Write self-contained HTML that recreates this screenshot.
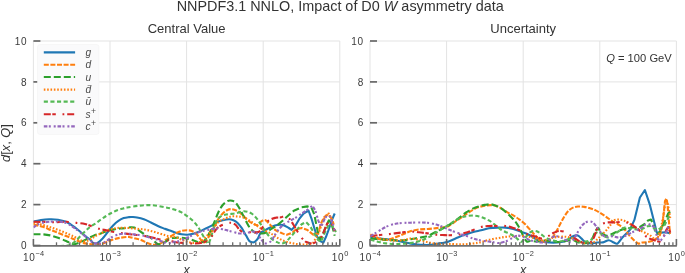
<!DOCTYPE html>
<html><head><meta charset="utf-8"><style>
html,body{margin:0;padding:0;background:#fff;overflow:hidden;width:685px;height:273px;}
svg{display:block;}
text{font-family:"Liberation Sans",sans-serif;fill:#333;}
.title{font-size:14.4px;}
.sub{font-size:13px;}
.tl{font-size:10px;letter-spacing:0.7px;fill:#3a3a3a;}
.sup{font-size:7.4px;letter-spacing:0.2px;}
.lab{font-size:12.5px;}
.leg{font-size:10.2px;font-style:italic;fill:#4a4a4a;}
.q{font-size:11.2px;}
.ylab{font-size:12.8px;}
</style></head>
<body><svg width="685" height="273" viewBox="0 0 685 273">
<rect width="685" height="273" fill="#fff"/>
<defs><clipPath id="cl"><rect x="33.4" y="41.0" width="306.40000000000003" height="204.5"/></clipPath><clipPath id="cr"><rect x="370.0" y="41.0" width="306.4" height="204.5"/></clipPath></defs>
<line x1="33.4" y1="41.0" x2="33.4" y2="245.5" stroke="#e3e3e3" stroke-width="1"/>
<line x1="110" y1="41.0" x2="110" y2="245.5" stroke="#e3e3e3" stroke-width="1"/>
<line x1="186.6" y1="41.0" x2="186.6" y2="245.5" stroke="#e3e3e3" stroke-width="1"/>
<line x1="263.2" y1="41.0" x2="263.2" y2="245.5" stroke="#e3e3e3" stroke-width="1"/>
<line x1="339.8" y1="41.0" x2="339.8" y2="245.5" stroke="#e3e3e3" stroke-width="1"/>
<line x1="33.4" y1="245.5" x2="339.8" y2="245.5" stroke="#e3e3e3" stroke-width="1"/>
<line x1="33.4" y1="204.6" x2="339.8" y2="204.6" stroke="#e3e3e3" stroke-width="1"/>
<line x1="33.4" y1="163.7" x2="339.8" y2="163.7" stroke="#e3e3e3" stroke-width="1"/>
<line x1="33.4" y1="122.8" x2="339.8" y2="122.8" stroke="#e3e3e3" stroke-width="1"/>
<line x1="33.4" y1="81.9" x2="339.8" y2="81.9" stroke="#e3e3e3" stroke-width="1"/>
<line x1="33.4" y1="41" x2="339.8" y2="41" stroke="#e3e3e3" stroke-width="1"/>
<line x1="370" y1="41.0" x2="370" y2="245.5" stroke="#e3e3e3" stroke-width="1"/>
<line x1="446.6" y1="41.0" x2="446.6" y2="245.5" stroke="#e3e3e3" stroke-width="1"/>
<line x1="523.2" y1="41.0" x2="523.2" y2="245.5" stroke="#e3e3e3" stroke-width="1"/>
<line x1="599.8" y1="41.0" x2="599.8" y2="245.5" stroke="#e3e3e3" stroke-width="1"/>
<line x1="676.4" y1="41.0" x2="676.4" y2="245.5" stroke="#e3e3e3" stroke-width="1"/>
<line x1="370" y1="245.5" x2="676.4" y2="245.5" stroke="#e3e3e3" stroke-width="1"/>
<line x1="370" y1="204.6" x2="676.4" y2="204.6" stroke="#e3e3e3" stroke-width="1"/>
<line x1="370" y1="163.7" x2="676.4" y2="163.7" stroke="#e3e3e3" stroke-width="1"/>
<line x1="370" y1="122.8" x2="676.4" y2="122.8" stroke="#e3e3e3" stroke-width="1"/>
<line x1="370" y1="81.9" x2="676.4" y2="81.9" stroke="#e3e3e3" stroke-width="1"/>
<line x1="370" y1="41" x2="676.4" y2="41" stroke="#e3e3e3" stroke-width="1"/>
<path d="M33.4,221.6 C34.7,221.3 38.4,220.5 41,220.1 C43.6,219.7 46.2,219.4 49,219.3 C51.8,219.2 55.2,219.3 58,219.7 C60.8,220.1 63.2,220.6 66,221.8 C68.8,223.1 72.1,225.4 74.6,227.2 C77.1,229 79.1,230.9 81,232.5 C82.9,234.1 84.5,235.3 86,236.5 C87.5,237.7 89,238.7 90.3,239.8 C91.6,241 92.6,242.9 93.8,243.4 C95,243.9 95.8,243.9 97.3,243.1 C98.8,242.3 100.8,240.3 102.6,238.5 C104.3,236.7 106,234.2 107.8,232 C109.5,229.8 111.3,227.4 113.1,225.5 C114.9,223.6 116.6,222 118.4,220.8 C120.2,219.6 121.9,218.7 123.7,218.1 C125.5,217.5 127.6,217.3 129,217.1 C130.4,216.9 130.7,216.9 132,217 C133.3,217.1 135,217.1 137,217.5 C139,217.9 141.6,218.5 143.9,219.3 C146.2,220.1 148.6,221.4 150.9,222.5 C153.2,223.6 155.6,224.9 157.9,226 C160.2,227.1 162.5,227.9 164.8,228.8 C167.1,229.7 169.9,230.5 171.8,231.2 C173.7,231.9 174.4,232.3 176,232.8 C177.6,233.3 179.7,234 181.6,234.3 C183.5,234.6 185.4,234.8 187.4,234.7 C189.4,234.6 191.4,234.3 193.3,233.8 C195.2,233.3 197.2,232.6 199.1,231.8 C201,231 203,229.8 204.9,228.9 C206.8,228 208.8,227.3 210.7,226.2 C212.6,225.1 214.4,223.4 216.4,222.4 C218.4,221.4 220.6,220.7 222.7,220.2 C224.8,219.7 227.3,219.2 229.1,219.2 C230.9,219.2 232,219.6 233.4,220.2 C234.8,220.8 236.2,221.6 237.6,222.9 C239,224.2 240.4,226.1 241.8,228.2 C243.2,230.3 244.8,233.5 246.1,235.6 C247.3,237.7 248.2,239.9 249.3,241 C250.4,242.1 251.6,242.1 252.5,242.3 C253.4,242.5 253.6,242.6 254.5,242 C255.4,241.4 256.8,240.1 257.8,238.6 C258.8,237.1 259.4,234.2 260.7,232.8 C262,231.4 263.7,230.9 265.5,229.9 C267.3,228.9 269.4,227.8 271.3,227 C273.2,226.2 275.2,225.3 277.1,225 C279,224.7 280.9,224.5 282.9,225 C284.8,225.5 287.3,227.2 288.8,228 L291.7,229.9 L295.8,225.1 L299.7,218.3 L303.6,213.5 L308.5,210.5 L311.4,218.3 L314.3,228 L317.2,236.8 L321.1,241.6 L323.4,242.6 L326,236.8 L328.9,229 L331.8,220.3 L334.7,213.5" fill="none" stroke="#1f77b4" stroke-width="2.1" stroke-linejoin="round" clip-path="url(#cl)"/>
<path d="M33.4,224.5 C35,224.9 39.7,225.9 42.7,226.8 C45.7,227.8 48.4,229.1 51.2,230.2 C54,231.3 56.9,232.4 59.7,233.5 C62.5,234.6 65.7,235.8 68.2,236.8 C70.7,237.8 72.5,238.6 74.6,239.5 C76.7,240.4 78.9,241.6 81,242.3 C83.1,243 85.5,243.5 87.3,243.8 C89.1,244.1 89.8,244.2 92,244.2 C94.2,244.2 98.5,244.3 100.8,244 C103.1,243.7 104,242.9 106.1,242.2 C108.1,241.4 110.8,240.2 113.1,239.5 C115.4,238.8 117.8,238.2 120.1,237.8 C122.4,237.4 125.5,237 127.2,236.9 C128.8,236.8 128.6,236.9 130,237.2 C131.4,237.5 133.8,238.1 135.6,238.6 C137.4,239.1 139.2,239.2 141.1,239.9 C142.9,240.6 144.8,241.9 146.7,242.7 C148.6,243.5 150.7,244.3 152.3,244.6 C153.9,244.9 155.1,244.8 156.5,244.6 C157.9,244.4 159.2,244.1 160.6,243.4 C162,242.7 163.4,241.5 164.8,240.5 C166.2,239.5 167.2,238.8 169,237.6 C170.8,236.4 173.7,234.4 175.8,233.3 C177.9,232.2 179.7,231.4 181.6,230.9 C183.5,230.4 185.6,230.2 187.4,230.3 C189.2,230.4 190.8,230.6 192.3,231.2 C193.8,231.8 194.9,232.6 196.2,233.8 C197.5,235 198.9,237.2 200,238.6 C201.1,240 201.9,241.8 202.9,242.3 C203.9,242.8 204.9,242.4 205.9,241.5 C206.9,240.6 207.8,238.3 208.8,236.7 C209.8,235.1 210.8,233.4 211.7,231.8 C212.6,230.2 213.1,229.4 214.2,227.2 C215.3,225 217.1,221 218.5,218.7 C219.9,216.4 221.3,214.8 222.7,213.4 C224.1,212 225.6,210.9 227,210.2 C228.4,209.5 229.8,209.1 231.2,209.1 C232.6,209.1 234.1,209.7 235.5,210.2 C236.9,210.7 238.3,211.2 239.7,212.3 C241.1,213.4 242.6,215.1 244,216.5 C245.4,217.9 246.5,219.5 248.2,220.8 C249.8,222.1 252.3,223.4 253.9,224.1 C255.5,224.8 256.5,225.5 257.8,225 C259.1,224.5 260.3,222 261.6,221.2 C262.9,220.4 264.2,219.7 265.5,220.2 C266.8,220.7 267.8,222.5 269.4,224.1 C271,225.7 273.3,228.4 275.2,229.9 C277.1,231.4 279.1,232 281,232.8 C282.9,233.6 284.9,234.8 286.8,234.7 L292.6,232.5 L295.8,229.5 L301.7,228 L307.5,230 L313.3,234.8 L318.2,232.9 L321.1,223.2 L324,217.4 L327.9,214.4 L330.8,217.4 L333.7,224.2" fill="none" stroke="#ff7f0e" stroke-width="2.1" stroke-dasharray="5 1.6" stroke-linejoin="round" clip-path="url(#cl)"/>
<path d="M33.4,234.3 C35,234.3 39.7,234.1 42.7,234.3 C45.7,234.5 48.4,234.9 51.2,235.6 C54,236.3 57.2,237.5 59.7,238.4 C62.2,239.3 64.3,240.2 66.1,241 C67.9,241.8 68.9,242.5 70.3,243 C71.7,243.5 72.8,244.3 74.6,244.1 C76.4,243.9 78.9,242.9 81,242 C83.1,241.1 85.2,239.9 87.3,238.8 C89.4,237.7 91.5,236.5 93.7,235.6 C96,234.7 98.5,234.2 100.8,233.4 C103.1,232.6 105.4,231.5 107.8,230.8 C110.2,230.1 112.9,229.6 114.9,229.2 C116.9,228.8 118.4,228.7 120,228.5 C121.6,228.3 123,228.4 124.7,228.2 C126.4,228 128.4,227.4 130,227.3 C131.6,227.2 132.8,227.1 134.2,227.6 C135.6,228.1 137,229.3 138.4,230.2 C139.8,231.1 141.1,232.1 142.5,233 C143.9,233.9 145.3,235 146.7,235.8 C148.1,236.6 149.5,236.9 150.9,237.9 C152.3,238.9 153.9,241 155.1,242 C156.3,243 157,243.8 157.9,244.1 C158.8,244.4 159.4,244.4 160.6,244.1 C161.8,243.8 163.4,243 164.8,242.2 C166.2,241.4 167.6,240 169,239.3 C170.4,238.6 171.5,238.3 173,238 C174.5,237.7 176.2,237.6 178,237.6 C179.8,237.6 182,237.7 184,238 C186,238.3 188.2,238.7 190,239.2 C191.8,239.7 193.5,240.5 195,241 C196.5,241.5 197.6,242.2 199.1,242.3 C200.6,242.4 202.4,242.4 203.9,241.3 C205.4,240.2 206.5,237.8 207.8,235.7 C209.1,233.6 210.6,231.1 211.7,228.9 C212.8,226.7 213.1,225.3 214.2,222.5 C215.3,219.7 217.1,214.9 218.5,212 C219.9,209.1 221.3,206.8 222.7,205 C224.1,203.2 225.8,202.1 227,201.3 C228.2,200.6 228.9,200.5 230,200.5 C231.1,200.5 232.2,200.4 233.5,201.2 C234.8,202 236.2,203.4 237.6,205.3 C239,207.2 240.3,209.9 241.7,212.5 C243.1,215.1 244.4,218.1 245.8,220.7 C247.2,223.3 248.5,226.1 249.9,227.9 C251.3,229.8 252.7,231 254,231.8 C255.3,232.7 256.4,232.7 257.7,233 C259,233.3 260.6,233.6 262,233.5 C263.4,233.4 264.6,233.2 266.2,232.5 C267.8,231.8 269.5,230.2 271.3,229 C273.1,227.8 274.9,226.9 276.8,225.5 C278.7,224.1 280.9,222.2 282.9,220.5 C284.9,218.8 287,216.6 288.8,215 L293.8,210.8 L301.7,207.2 L307.5,206.4 L311.4,207.6 L314.3,214.4 L316.2,224.2 L318.2,233.9 L320.1,239.7 L323,233.9 L326,226.1 L328.9,220.3 L331.8,224.2 L334.7,235.8" fill="none" stroke="#2ca02c" stroke-width="2.1" stroke-dasharray="7 3" stroke-linejoin="round" clip-path="url(#cl)"/>
<path d="M33.4,223 C35,223.3 39.7,224.1 42.7,224.8 C45.7,225.6 48.4,226.6 51.2,227.5 C54,228.4 56.9,229.4 59.7,230.5 C62.5,231.6 65.7,232.9 68.2,234 C70.7,235.1 72.6,236 74.6,237 C76.6,238 78.4,239.3 80,240 C81.6,240.7 82.7,241.2 84,241.3 C85.3,241.4 86.7,241 88,240.5 C89.3,240 90.8,239.1 92,238.3 C93.2,237.6 94,236.8 95.5,236 C97,235.2 99,234.3 100.8,233.4 C102.6,232.5 104.3,231.5 106.1,230.8 C107.9,230.1 109.7,229.4 111.4,229 C113.2,228.6 114.8,228.3 116.6,228.1 C118.3,227.9 119.7,227.8 121.9,227.8 C124.1,227.8 127.5,227.9 130,228.1 C132.5,228.3 134.7,228.6 137,228.8 C139.3,229 141.6,229.2 143.9,229.5 C146.2,229.8 148.6,230.3 150.9,230.9 C153.2,231.5 155.6,232.3 157.9,233 C160.2,233.7 162.8,234.5 164.8,235.1 C166.8,235.7 168.2,236.2 170,236.5 C171.8,236.8 173.9,236.7 175.8,237.2 C177.7,237.7 179.6,238.8 181.6,239.6 C183.6,240.4 185.8,241.4 188,242 C190.2,242.6 192.8,243.1 195,243 C197.2,242.9 199.3,242.3 201,241.5 C202.7,240.7 203.7,239.3 205,238 C206.3,236.7 207.6,235.1 208.8,233.8 C210,232.5 211,231.2 212,230 C213,228.8 213.9,227.9 215,226.5 C216.1,225.1 216.8,223.1 218.5,221.8 C220.2,220.5 222.8,219.6 224.9,218.7 C227,217.8 229.1,216.9 231.2,216.5 C233.3,216.1 235.5,216.3 237.6,216.5 C239.7,216.7 241.9,216.8 244,217.6 C246.1,218.3 248,219.5 250.3,221 C252.6,222.5 255.3,224.8 257.8,226.5 C260.3,228.2 263.2,229.7 265.5,230.9 C267.8,232.1 269.4,232.7 271.3,233.8 C273.2,234.9 275.2,236.5 277.1,237.6 C279,238.7 280.9,239.7 282.9,240.5 C284.8,241.3 286.8,241.9 288.8,242.5 L295,243.8 L300,244.5 L305.5,244.5 L310,244 L313.3,242.6 L316,238 L319.2,231.9 L323,220.3 L326.9,214.4 L328.9,213.5 L331.8,219.3 L334,225" fill="none" stroke="#ff7f0e" stroke-width="2.1" stroke-dasharray="1.6 1.75" stroke-linejoin="round" clip-path="url(#cl)"/>
<path d="M33.4,246 C37.8,246 54.2,246.1 60,246 C65.8,245.9 66,245.8 68,245.5 C70,245.2 70.7,244.8 72,244 C73.3,243.2 74.7,241.8 76,240.5 C77.3,239.2 78.5,238 80,236.5 C81.5,235 83.3,233.1 85,231.5 C86.7,229.9 88.2,228.3 90,227 C91.8,225.7 93.7,224.7 95.5,223.5 C97.3,222.3 99,220.9 100.8,219.7 C102.6,218.4 104.3,217.1 106.1,216 C107.9,214.9 109.7,213.9 111.4,213 C113.2,212.1 114.8,211.2 116.6,210.5 C118.3,209.8 120.1,209.3 121.9,208.8 C123.7,208.3 124.2,208 127.2,207.5 C130.2,207 135.9,206 140,205.6 C144.1,205.2 147.8,204.9 152,205.2 C156.2,205.5 162,206.8 165,207.3 C168,207.8 168.2,207.8 170,208.3 C171.8,208.8 173.9,209.4 175.8,210.1 C177.7,210.8 179.7,211.4 181.6,212.4 C183.5,213.4 185.4,214.8 187.4,216.3 C189.4,217.8 191.5,219.4 193.3,221.2 C195.1,223 196.7,224.9 198.1,227 C199.5,229.1 200.7,231.6 202,233.8 C203.3,236.1 204.8,238.9 205.9,240.5 C207,242.1 207.5,244.6 208.5,243.5 C209.5,242.4 210.8,237.6 212,234 C213.2,230.4 214.6,224.9 216,222 C217.4,219.1 218.8,217.8 220.6,216.5 C222.4,215.2 224.5,214.9 227,214.4 C229.5,213.9 232.7,213.9 235.5,213.4 C238.3,212.9 241.3,211.2 244,211.2 C246.7,211.2 249.1,212 251.4,213.4 C253.7,214.8 255.6,217 257.7,219.7 C259.8,222.3 261.9,226.3 264,229.3 C266.1,232.3 268.4,235.7 270.5,237.8 C272.6,239.9 274.9,241.1 276.8,242 C278.7,242.9 280.3,243.7 282,243.5 C283.7,243.3 285.5,242.2 287,241 L291,236.5 L295.8,231 L301.7,224.2 L306,222 L310,226 L314,233 L318,240 L321,242 L325,232 L329,224 L333,227 L336,232" fill="none" stroke="#55b955" stroke-width="2.1" stroke-dasharray="4.1 2.5" stroke-linejoin="round" clip-path="url(#cl)"/>
<path d="M33.4,221.8 C35.3,221.8 41.3,221.8 45,221.9 C48.7,222 52,222.2 55.5,222.2 C59,222.2 62.6,221.8 66.1,221.9 C69.6,222 73.5,222.6 76.7,222.9 C79.9,223.2 82.5,223.4 85,224 C87.5,224.6 89.7,225.6 92,226.4 C94.3,227.2 97,228.2 99.1,228.8 C101.1,229.4 102.2,229.5 104.3,229.9 C106.3,230.3 108.8,231 111.4,231.5 C114,232 116.9,232.4 120,232.8 C123.1,233.2 126,233.7 130,234.2 C134,234.7 140.4,235.3 143.9,235.8 C147.4,236.3 148.6,236.7 150.9,237.2 C153.2,237.7 155.6,238.5 157.9,239 C160.2,239.5 163,239.7 165,240 C167,240.3 167.9,240.4 170,240.8 C172.1,241.2 175.2,242.1 177.8,242.5 C180.4,242.9 182.6,242.8 185.5,243 C188.4,243.2 192.3,243.6 195.2,243.5 C198.1,243.4 200.7,243.2 203,242.5 C205.3,241.8 207.3,240.7 208.8,239.6 C210.3,238.5 211,237.4 212,236 C213,234.6 213.9,232.5 215,231 C216.1,229.5 216.8,228.2 218.5,227 C220.2,225.8 222.8,224.7 224.9,224 C227,223.3 229.4,222.7 231.2,222.8 C233,222.9 234.1,223.6 235.5,224.8 C236.9,226 238.3,228.8 239.7,230 C241.1,231.2 242.3,231.9 244,232.3 C245.7,232.7 248.1,232.2 250,232.2 C251.9,232.2 254,232.6 255.6,232.4 C257.2,232.2 258.3,232.5 259.7,231.3 C261.1,230.1 262.5,227 263.9,225.3 C265.3,223.6 266.7,222.1 268.1,221 C269.5,219.9 270.9,219.4 272.2,218.8 C273.5,218.2 274.5,217.8 276,217.6 C277.5,217.3 279.4,217.6 281,217.3 C282.6,217 284.1,215.6 285.6,216 L290.3,219.5 L293.9,225.5 L297.8,232 L301.7,238 L305.8,241.8 L310,243.3 L313.3,243.2 L319.2,240.7 L323,233.9 L326.9,224.2 L329.8,220.3 L332.8,226.1 L334.7,231" fill="none" stroke="#d62728" stroke-width="2.1" stroke-dasharray="7 1.5 3.5 6.7 1.8 2.9" stroke-linejoin="round" clip-path="url(#cl)"/>
<path d="M33.4,227.5 C34.2,226.9 36.2,225.1 38.5,224.2 C40.8,223.3 43.8,222.4 47,222 C50.2,221.6 54.4,221.3 57.6,221.5 C60.8,221.7 63.3,221.9 66.1,223 C68.9,224.1 71.8,226.3 74.6,228.2 C77.4,230.1 80.6,232.6 83.1,234.6 C85.6,236.6 87.6,238.5 89.4,239.9 C91.2,241.3 91.9,242.4 93.7,243 C95.5,243.6 97.9,243.8 100,243.5 C102.1,243.2 104.2,242.3 106.1,241.3 C108,240.3 109.4,238.6 111.4,237.5 C113.5,236.4 116.1,235.2 118.4,234.5 C120.7,233.8 123.5,233.7 125.4,233.6 C127.3,233.5 128.1,233.6 130,233.8 C131.9,234 134.7,234.5 137,234.8 C139.3,235.1 141.6,235.3 143.9,235.8 C146.2,236.3 148.6,237.2 150.9,237.9 C153.2,238.6 155.8,239.2 157.9,239.9 C160,240.6 161.7,241.5 163.4,242 C165.1,242.5 166.4,242.9 168,243 C169.6,243.1 171.4,242.6 173,242.3 C174.6,242 175.7,241.9 177.8,241.3 C179.9,240.7 183.2,239.5 185.5,238.6 C187.8,237.7 189.4,236.7 191.3,235.7 C193.2,234.7 195.2,233.6 197.1,232.8 C199,232 201.1,231.4 203,230.9 C204.9,230.4 206.6,230 208.8,229.6 C211,229.2 214.1,228.6 216.4,228.5 C218.7,228.4 220.2,228.8 222.7,229.3 C225.2,229.8 228.4,230.7 231.2,231.4 C234,232.1 236.9,233.3 239.7,233.5 C242.5,233.7 246,232.8 248.2,232.5 C250.4,232.2 251.6,231.4 253,231.5 C254.4,231.6 255.2,231.8 256.5,233 C257.8,234.2 259.4,236.9 260.7,238.6 C262,240.3 263.1,242.7 264.5,243.3 C265.9,243.9 268.1,242.9 269.4,242.3 C270.6,241.7 270.9,241.3 272,239.8 C273.1,238.3 274.6,235.3 275.9,233.3 C277.2,231.3 278.3,229.7 279.9,228 C281.4,226.3 283.4,224.5 285.2,223.3 L290.4,220.6 L295.8,217.6 L301.7,213.5 L307.5,209.6 L312.4,205.7 L315.3,210.5 L318.2,220.3 L321.1,227.1 L324,220.3 L326.9,215.4 L329.8,216.4 L332.8,224.2 L334.7,231" fill="none" stroke="#9467bd" stroke-width="2.1" stroke-dasharray="3.6 1.4 2 2.9 2 1.8" stroke-linejoin="round" clip-path="url(#cl)"/>
<path d="M370.4,237.4 C372,237.6 376.5,238.2 380.1,238.6 C383.7,239 388.2,239.2 392.2,239.8 C396.2,240.4 400.8,241.5 404.3,242.2 C407.8,242.9 410.3,243.6 413,244 C415.7,244.4 417.5,244.7 420.5,244.8 C423.5,244.9 427.6,245.1 431.1,244.8 C434.6,244.5 438.7,243.7 441.6,243.1 C444.5,242.5 446,242.4 448.7,241.5 C451.4,240.6 455,238.7 457.8,237.5 C460.6,236.3 462.9,235.4 465.5,234.5 C468.1,233.6 470.7,232.7 473.3,232 C475.9,231.3 478.4,230.9 481,230.3 C483.6,229.7 486,228.8 488.8,228.3 C491.6,227.9 495,227.7 497.8,227.6 C500.6,227.5 502.9,227.4 505.5,227.6 C508.1,227.8 510.7,228.2 513.3,228.9 C515.9,229.6 518.4,230.8 521,231.8 C523.6,232.8 526.3,233.5 528.8,234.7 C531.3,235.9 533.7,237.9 535.8,239 C537.9,240.1 539.3,240.9 541.6,241.5 C543.9,242.1 546.8,242.3 549.4,242.5 C552,242.7 554.5,242.7 557.1,242.5 C559.7,242.3 562.9,241.9 564.9,241.3 C566.9,240.7 567.6,239.9 569,239 C570.4,238.1 572,236.6 573.5,236 C575,235.4 576.4,235.1 577.8,235.5 C579.1,235.9 580.3,237.5 581.6,238.6 C582.9,239.7 583.9,241.5 585.5,242.3 C587.1,243.1 589.4,243.5 591.3,243.5 C593.2,243.5 595.1,242.7 597.1,242.5 C599.1,242.3 601,242.8 603,242.4 C605,242 607,240.2 608.8,240.2 C610.6,240.2 612.3,241.9 613.8,242.5 C615.2,243.1 616.1,244.4 617.5,243.6 C618.9,242.8 620.3,239.9 622.4,237.6 L629.9,229.9 L634.4,219.9 L639.9,197.5 L644.9,190 L649.9,204.9 L654.3,222.4 L656.8,232.8 L661.1,232.6 L666.1,232.3 L670.3,233.6" fill="none" stroke="#1f77b4" stroke-width="2.1" stroke-linejoin="round" clip-path="url(#cr)"/>
<path d="M370.4,234.3 C371,234.7 372.4,236 374,236.8 C375.6,237.6 378.1,238.7 380.1,239.2 C382.1,239.7 384.1,239.9 386.1,239.8 C388.1,239.7 390.2,239.2 392.2,238.6 C394.2,238 396.2,237 398.2,236.2 C400.2,235.4 402.3,234.5 404.3,233.7 C406.3,232.9 407.9,232 410.3,231.3 C412.7,230.6 415.9,229.9 418.8,229.5 C421.7,229.1 424.7,229.2 427.6,229 C430.5,228.8 433.8,228.4 436.4,228.1 C439,227.8 441.3,227.5 443.4,227.2 C445.4,226.8 446.6,227 448.7,226 C450.8,225 453.6,222.6 455.8,221.2 C458,219.8 459.7,218.6 461.6,217.3 C463.5,216 465.4,214.7 467.4,213.4 C469.3,212.1 471.4,210.6 473.3,209.5 C475.2,208.4 477.2,207.6 479.1,207 C481,206.4 483,206 484.9,205.7 C486.8,205.4 488.9,205.1 490.7,205.1 C492.5,205.1 494,205.1 495.8,205.7 C497.6,206.3 499.7,207.5 501.6,208.6 C503.5,209.7 505.4,211.3 507.4,212.4 C509.3,213.5 511.3,214.2 513.3,215.3 C515.2,216.5 517.2,217.9 519.1,219.3 C521,220.8 523,222.1 524.9,224 C526.8,225.9 529.2,228.8 530.7,230.5 C532.2,232.2 532.7,232.8 533.9,234 C535.1,235.2 536.5,236.8 537.8,238 C539.1,239.2 540.3,240.9 541.6,241.5 C542.9,242.1 544.2,241.7 545.5,241.5 C546.8,241.3 548.1,241 549.4,240.2 C550.7,239.4 552,238.2 553.3,236.5 C554.6,234.8 555.8,232.3 557.1,230 C558.4,227.7 559.7,224.9 561,222.5 C562.3,220.1 563.6,217.6 564.9,215.6 C566.2,213.6 567.4,211.8 568.8,210.5 C570.1,209.2 571.5,208.3 573,207.6 C574.5,206.9 576.2,206.6 578,206.5 C579.8,206.4 581.7,206.6 583.6,206.8 C585.5,207.1 587.5,207.4 589.4,208 C591.3,208.6 593.3,209.2 595.2,210.1 C597.1,211 599.1,212.2 601,213.4 C602.9,214.6 604.9,216 606.8,217.3 C608.7,218.7 610.4,220.1 612.6,221.5 C614.8,222.9 617.9,224.1 620,225.5 L625,230 L630,236.3 L635,241.3 L638.8,243.8 L642.5,242.5 L647.4,242.3 L652,241 L656.5,239 L660,235 L662.5,225 L663.8,212.5 L665,201 L666.5,198.5 L667.5,204 L668.8,220 L670,233.8" fill="none" stroke="#ff7f0e" stroke-width="2.1" stroke-dasharray="5 1.6" stroke-linejoin="round" clip-path="url(#cr)"/>
<path d="M370.4,238.6 C372,238.7 376.5,238.9 380.1,239.2 C383.7,239.5 388.2,240 392.2,240.2 C396.2,240.4 400.8,240.4 404.3,240.2 C407.8,240 410.6,239.2 413,238.8 C415.4,238.4 416.4,238.3 418.8,237.8 C421.2,237.3 424.7,237 427.6,236 C430.5,235 433.8,232.9 436.4,231.6 C439,230.3 441.3,229.2 443.4,228.1 C445.4,227 446.7,226.4 448.7,225.2 C450.7,224 453.2,222.4 455.4,220.8 C457.5,219.2 459.6,217.3 461.6,215.8 C463.6,214.3 465.4,212.8 467.4,211.6 C469.3,210.4 471.4,209.3 473.3,208.4 C475.2,207.5 477.2,206.9 479.1,206.3 C481,205.7 483,205.2 484.9,204.9 C486.8,204.6 488.9,204.2 490.7,204.3 C492.5,204.4 494,205 495.8,205.7 C497.6,206.4 499.7,207.3 501.6,208.6 C503.5,209.9 505.4,211.6 507.4,213.4 C509.3,215.2 511.7,217.4 513.3,219.2 C514.9,221 515.8,222.1 517.1,224.1 C518.4,226.1 519.9,228.7 521,230.9 C522.1,233.2 522.9,235.8 523.9,237.6 C524.9,239.4 525.8,240.9 526.8,241.5 C527.8,242.1 528.2,241 530,241 C531.8,241 535.2,241.6 537.8,241.5 C540.4,241.4 542.9,240.5 545.5,240.5 C548.1,240.5 550.7,241.3 553.3,241.5 C555.9,241.7 558.4,242.1 561,241.9 C563.6,241.7 566.8,240.8 568.8,240.5 C570.8,240.2 571.5,239.7 573,240 C574.5,240.3 575.7,241.8 577.8,242.3 C579.9,242.9 583.2,243.6 585.5,243.3 C587.8,243 589.7,242.4 591.3,240.5 C592.9,238.6 594.1,233.9 595.2,231.8 C596.3,229.7 597.1,227.7 598.1,227.9 C599.1,228.1 599.5,231.5 601,232.8 C602.5,234.1 605,235.5 606.8,235.7 C608.6,235.9 610.2,234.7 612,234 C613.8,233.3 615.3,232.2 617.5,231.3 C619.7,230.4 622.5,229.4 625,228.8 L632.5,227.5 L640,227 L644,224.5 L648,220.5 L651,219.5 L653,224 L654.8,230 L656.5,234 L658.6,233.6 L660.8,229.4 L665,220.9 L668.2,213.4 L670.3,211.3" fill="none" stroke="#2ca02c" stroke-width="2.1" stroke-dasharray="7 3" stroke-linejoin="round" clip-path="url(#cr)"/>
<path d="M370.4,235 C372,235.6 376.4,237.6 380,238.5 C383.6,239.4 388,240.2 392,240.5 C396,240.8 401,240.3 404,240 C407,239.7 407.5,238.5 410,238.5 C412.5,238.5 415.9,239.2 418.8,239.8 C421.7,240.4 424.7,241.5 427.6,242.2 C430.5,242.9 433.5,243.4 436.4,243.8 C439.3,244.2 442.8,244.5 445.1,244.5 C447.4,244.5 447.2,244 450,244 C452.8,244 457.7,244.5 461.6,244.4 C465.5,244.3 470.1,243.9 473.3,243.5 C476.5,243.1 478.4,242.8 481,242.2 C483.6,241.6 486,240.5 488.8,239.8 C491.6,239.1 495,238.7 497.8,238.2 C500.6,237.7 502.9,237.2 505.5,236.9 C508.1,236.6 510.7,236.3 513.3,236.2 C515.9,236 518.4,235.9 521,236 C523.6,236.1 526.5,236.3 528.8,236.7 C531.1,237.1 532.9,237.9 535,238.5 C537.1,239.1 539.6,240.3 541.6,240.5 C543.6,240.7 545,240 547,239.5 C549,239 551.3,238 553.3,237.6 C555.3,237.2 557.1,237 559,236.8 C560.9,236.7 563.1,236.6 564.9,236.7 C566.7,236.8 568.3,237.1 570,237.6 C571.7,238.1 573.1,238.7 575,239.5 C576.9,240.3 579.6,241.9 581.6,242.5 C583.6,243.1 585.1,243 587,243 C588.9,243 591.2,243.4 593.2,242.5 C595.2,241.6 597.2,239.4 599.1,237.6 C601,235.8 603.1,233.7 604.9,231.8 C606.7,229.9 608.2,227.9 609.7,226 C611.2,224.1 612.6,221.6 614,220.5 C615.4,219.4 616.6,219.6 618,219.5 L622.4,220 L627.4,222 L634.9,227.5 L642.4,231.5 L649.9,235 L654.8,239.5 L658,237 L660.5,230 L663,218 L665,205 L666.3,201 L667.5,203 L669,210 L670.5,220" fill="none" stroke="#ff7f0e" stroke-width="2.1" stroke-dasharray="1.6 1.75" stroke-linejoin="round" clip-path="url(#cr)"/>
<path d="M370.4,239.8 C371.2,240 373.7,240.6 375.3,241 C376.9,241.4 378.3,241.8 380.1,242.2 C381.9,242.6 383.3,243.1 386.1,243.4 C388.9,243.7 392.8,244.1 396.8,244 C400.8,243.9 406.3,243.5 410,243.1 C413.7,242.7 415.9,242.2 418.8,241.3 C421.7,240.4 424.7,239.3 427.6,237.8 C430.5,236.3 433.8,234.1 436.4,232.5 C439,230.9 441.1,229.5 443.4,228.1 C445.7,226.7 447.9,225.4 450,224.1 C452.1,222.8 453.9,221.3 455.8,220.2 C457.7,219 459.7,217.9 461.6,217.2 C463.5,216.5 465.4,216.3 467.4,216 C469.3,215.7 471.4,215.5 473.3,215.6 C475.2,215.7 477.2,215.9 479.1,216.4 C481,216.9 483,217.7 484.9,218.5 C486.8,219.3 488.9,220.3 490.7,221.5 C492.5,222.7 494,224.1 495.8,225.5 C497.6,226.9 499.7,228.8 501.6,230 C503.5,231.2 505.4,231.9 507.4,232.8 C509.3,233.8 511.7,234.7 513.3,235.7 C514.9,236.7 515.8,237.5 517.1,238.6 C518.4,239.7 519.7,242.1 521,242 C522.3,241.9 523.5,239.6 525,238 C526.5,236.4 528.4,233.7 529.9,232.5 C531.4,231.3 532.6,231 533.9,230.9 C535.2,230.8 536.5,231.2 537.8,231.8 C539.1,232.4 540,233.6 541.6,234.7 C543.2,235.8 545.5,237.6 547.4,238.6 C549.3,239.6 551.3,240 553.3,240.5 C555.2,241 557.2,241.5 559.1,241.5 C561,241.5 563,241 564.9,240.5 C566.8,240 569,238.9 570.7,238.6 C572.4,238.3 573.8,238.1 575,238.6 C576.2,239.1 576,241 577.8,241.5 C579.5,242 583.2,241.8 585.5,241.5 C587.8,241.2 589.7,240.9 591.3,239.6 C592.9,238.3 593.9,235.1 595.2,233.8 C596.5,232.5 597.8,231.5 599.1,231.8 C600.4,232.1 601.4,234.7 603,235.7 C604.6,236.7 607.1,237.7 608.8,237.6 C610.5,237.5 611.5,235.9 613,235 C614.5,234.1 615.5,233.2 617.5,232 C619.5,230.8 622.5,228 625,227.5 L632.5,228.8 L640,230 L647.5,226.3 L651,226 L654,228 L657.3,229.9 L661,228 L664.8,224.9 L669.8,214.9" fill="none" stroke="#55b955" stroke-width="2.1" stroke-dasharray="4.1 2.5" stroke-linejoin="round" clip-path="url(#cr)"/>
<path d="M370.4,236 C372,235.8 376.8,235.3 380.1,235 C383.4,234.7 386.5,234.4 390,234 C393.5,233.6 397.7,233 401,232.6 C404.3,232.2 407,231.6 410,231.5 C413,231.4 415.9,232 418.8,232.3 C421.7,232.6 424.7,233 427.6,233.4 C430.5,233.8 433.5,234.5 436.4,234.8 C439.3,235.1 442.8,235 445.1,235.1 C447.4,235.2 448.3,235.3 450.4,235.2 C452.5,235.1 455.3,235.1 457.8,234.7 C460.3,234.3 462.9,233.6 465.5,232.8 C468.1,232 470.7,230.9 473.3,229.9 C475.9,228.9 478.4,227.7 481,227 C483.6,226.3 486,226.2 488.8,226 C491.6,225.8 495,226 497.8,226 C500.6,226 502.9,225.7 505.5,226 C508.1,226.3 510.7,227.1 513.3,227.9 C515.9,228.7 518.4,229.8 521,230.9 C523.6,232 526.3,233.8 528.8,234.7 C531.3,235.6 533.7,235.8 535.8,236.5 C537.9,237.2 539.7,238.6 541.6,238.6 C543.5,238.6 545.5,237.6 547.4,236.7 C549.3,235.8 551.3,233.9 553.3,233 C555.2,232.1 557.2,231.2 559.1,231 C561,230.8 563,231.2 564.9,232 C566.8,232.8 568.9,234.3 570.7,235.5 C572.5,236.7 574,237.9 575.8,239 C577.6,240.1 579.7,241.6 581.6,242.3 C583.5,243.1 585.8,243.6 587.4,243.5 C589,243.4 590.2,242.6 591.3,241.5 C592.4,240.4 593.2,238.8 594.2,236.7 C595.2,234.6 596,230.9 597.1,228.9 C598.2,226.9 599.4,225.6 601,224.5 C602.6,223.4 604.9,222.8 606.8,222.5 C608.7,222.2 610.8,222.5 612.6,222.4 C614.4,222.3 615.8,222.3 617.5,222.2 C619.2,222.1 621,221.7 622.7,221.8 L627.8,222.8 L633,225.4 L638.1,229.2 L641.9,233.2 L645.5,236 L650,238.8 L656.5,241 L660.8,242.1 L664,235.7 L666.1,230.4 L668.2,227.2 L670.3,232.6" fill="none" stroke="#d62728" stroke-width="2.1" stroke-dasharray="7 1.5 3.5 6.7 1.8 2.9" stroke-linejoin="round" clip-path="url(#cr)"/>
<path d="M370.4,236.2 C371.2,235.7 373.7,234.2 375.3,233.2 C376.9,232.2 378.3,231.3 380.1,230.2 C381.9,229.1 384.1,227.8 386.1,226.8 C388.1,225.9 390.2,225.1 392.2,224.5 C394.2,223.9 396.2,223.7 398.2,223.4 C400.2,223.1 402.3,223 404.3,222.9 C406.3,222.8 407.9,222.8 410.3,222.7 C412.7,222.6 415.9,222.5 418.8,222.5 C421.7,222.5 424.7,222.5 427.6,222.8 C430.5,223.2 433.8,223.9 436.4,224.6 C439,225.3 441.3,226.4 443.4,227.2 C445.4,228 446.8,228.7 448.7,229.5 C450.6,230.3 452.2,231 455,232 C457.8,233 462.4,234.6 465.5,235.7 C468.6,236.8 470.7,237.8 473.3,238.6 C475.9,239.4 478.4,240 481,240.5 C483.6,241 486.5,241.2 488.8,241.5 C491.1,241.8 493.3,242.2 495,242.5 C496.7,242.8 497.2,243.2 499,243 C500.8,242.8 503.4,242.2 505.5,241.5 C507.6,240.8 509.4,239.6 511.3,238.6 C513.2,237.6 515.2,236 517.1,235.7 C519,235.4 521,236 522.9,236.7 C524.8,237.3 526.8,238.8 528.8,239.6 C530.8,240.4 532.9,241 535,241.5 C537.1,242 539.5,242.5 541.6,242.5 C543.7,242.5 545.5,242.5 547.4,241.5 C549.3,240.5 551.3,237.5 553.3,236.7 C555.2,235.9 557.2,236.2 559.1,236.7 C561,237.2 563,238.7 564.9,239.6 C566.8,240.5 569.3,242.3 570.7,242.3 C572.1,242.3 572.5,240.8 573.5,239.5 C574.5,238.2 575.5,236.2 576.5,234.5 C577.5,232.8 578.4,230.7 579.5,229 C580.6,227.3 581.8,225.7 583,224.5 C584.2,223.3 585.3,222.5 586.5,222 C587.7,221.5 588.9,221.4 590,221.5 C591.1,221.6 592,221.8 593,222.5 C594,223.2 595,224.8 596,226 C597,227.2 597.9,228.4 599.1,230 C600.3,231.6 601.7,234.4 603,235.5 C604.3,236.6 605.5,236.6 606.8,236.7 C608.1,236.8 608.9,235.9 610.7,236 C612.5,236.1 615.5,237.2 617.5,237.4 C619.5,237.6 621.2,237.2 622.7,236.9 L626.5,235.5 L631.7,232.4 L636.8,230.3 L641.9,227.6 L645.5,224.5 L648.5,223.8 L651,225 L654.4,227.2 L657.6,239 L660.8,240.5 L665,234.7 L668.2,227.2 L670.3,225.1" fill="none" stroke="#9467bd" stroke-width="2.1" stroke-dasharray="3.6 1.4 2 2.9 2 1.8" stroke-linejoin="round" clip-path="url(#cr)"/>
<line x1="32.9" y1="245.8" x2="340.3" y2="245.8" stroke="#707070" stroke-width="1.7"/>
<line x1="33.4" y1="245.5" x2="33.4" y2="239.0" stroke="#686868" stroke-width="1.6"/>
<line x1="56.5" y1="245.5" x2="56.5" y2="242.3" stroke="#686868" stroke-width="1.3"/>
<line x1="69.9" y1="245.5" x2="69.9" y2="242.3" stroke="#686868" stroke-width="1.3"/>
<line x1="79.5" y1="245.5" x2="79.5" y2="242.3" stroke="#686868" stroke-width="1.3"/>
<line x1="86.9" y1="245.5" x2="86.9" y2="242.3" stroke="#686868" stroke-width="1.3"/>
<line x1="93" y1="245.5" x2="93" y2="242.3" stroke="#686868" stroke-width="1.3"/>
<line x1="98.1" y1="245.5" x2="98.1" y2="242.3" stroke="#686868" stroke-width="1.3"/>
<line x1="102.6" y1="245.5" x2="102.6" y2="242.3" stroke="#686868" stroke-width="1.3"/>
<line x1="106.5" y1="245.5" x2="106.5" y2="242.3" stroke="#686868" stroke-width="1.3"/>
<line x1="110" y1="245.5" x2="110" y2="239.0" stroke="#686868" stroke-width="1.6"/>
<line x1="133.1" y1="245.5" x2="133.1" y2="242.3" stroke="#686868" stroke-width="1.3"/>
<line x1="146.5" y1="245.5" x2="146.5" y2="242.3" stroke="#686868" stroke-width="1.3"/>
<line x1="156.1" y1="245.5" x2="156.1" y2="242.3" stroke="#686868" stroke-width="1.3"/>
<line x1="163.5" y1="245.5" x2="163.5" y2="242.3" stroke="#686868" stroke-width="1.3"/>
<line x1="169.6" y1="245.5" x2="169.6" y2="242.3" stroke="#686868" stroke-width="1.3"/>
<line x1="174.7" y1="245.5" x2="174.7" y2="242.3" stroke="#686868" stroke-width="1.3"/>
<line x1="179.2" y1="245.5" x2="179.2" y2="242.3" stroke="#686868" stroke-width="1.3"/>
<line x1="183.1" y1="245.5" x2="183.1" y2="242.3" stroke="#686868" stroke-width="1.3"/>
<line x1="186.6" y1="245.5" x2="186.6" y2="239.0" stroke="#686868" stroke-width="1.6"/>
<line x1="209.7" y1="245.5" x2="209.7" y2="242.3" stroke="#686868" stroke-width="1.3"/>
<line x1="223.1" y1="245.5" x2="223.1" y2="242.3" stroke="#686868" stroke-width="1.3"/>
<line x1="232.7" y1="245.5" x2="232.7" y2="242.3" stroke="#686868" stroke-width="1.3"/>
<line x1="240.1" y1="245.5" x2="240.1" y2="242.3" stroke="#686868" stroke-width="1.3"/>
<line x1="246.2" y1="245.5" x2="246.2" y2="242.3" stroke="#686868" stroke-width="1.3"/>
<line x1="251.3" y1="245.5" x2="251.3" y2="242.3" stroke="#686868" stroke-width="1.3"/>
<line x1="255.8" y1="245.5" x2="255.8" y2="242.3" stroke="#686868" stroke-width="1.3"/>
<line x1="259.7" y1="245.5" x2="259.7" y2="242.3" stroke="#686868" stroke-width="1.3"/>
<line x1="263.2" y1="245.5" x2="263.2" y2="239.0" stroke="#686868" stroke-width="1.6"/>
<line x1="286.3" y1="245.5" x2="286.3" y2="242.3" stroke="#686868" stroke-width="1.3"/>
<line x1="299.7" y1="245.5" x2="299.7" y2="242.3" stroke="#686868" stroke-width="1.3"/>
<line x1="309.3" y1="245.5" x2="309.3" y2="242.3" stroke="#686868" stroke-width="1.3"/>
<line x1="316.7" y1="245.5" x2="316.7" y2="242.3" stroke="#686868" stroke-width="1.3"/>
<line x1="322.8" y1="245.5" x2="322.8" y2="242.3" stroke="#686868" stroke-width="1.3"/>
<line x1="327.9" y1="245.5" x2="327.9" y2="242.3" stroke="#686868" stroke-width="1.3"/>
<line x1="332.4" y1="245.5" x2="332.4" y2="242.3" stroke="#686868" stroke-width="1.3"/>
<line x1="336.3" y1="245.5" x2="336.3" y2="242.3" stroke="#686868" stroke-width="1.3"/>
<line x1="339.8" y1="245.5" x2="339.8" y2="239.0" stroke="#686868" stroke-width="1.6"/>
<line x1="33.4" y1="245.5" x2="40.4" y2="245.5" stroke="#686868" stroke-width="1.7"/>
<line x1="33.4" y1="204.6" x2="40.4" y2="204.6" stroke="#686868" stroke-width="1.7"/>
<line x1="33.4" y1="163.7" x2="40.4" y2="163.7" stroke="#686868" stroke-width="1.7"/>
<line x1="33.4" y1="122.8" x2="40.4" y2="122.8" stroke="#686868" stroke-width="1.7"/>
<line x1="33.4" y1="81.9" x2="40.4" y2="81.9" stroke="#686868" stroke-width="1.7"/>
<line x1="33.4" y1="41" x2="40.4" y2="41" stroke="#686868" stroke-width="1.7"/>
<line x1="369.5" y1="245.8" x2="676.9" y2="245.8" stroke="#707070" stroke-width="1.7"/>
<line x1="370" y1="245.5" x2="370" y2="239.0" stroke="#686868" stroke-width="1.6"/>
<line x1="393.1" y1="245.5" x2="393.1" y2="242.3" stroke="#686868" stroke-width="1.3"/>
<line x1="406.5" y1="245.5" x2="406.5" y2="242.3" stroke="#686868" stroke-width="1.3"/>
<line x1="416.1" y1="245.5" x2="416.1" y2="242.3" stroke="#686868" stroke-width="1.3"/>
<line x1="423.5" y1="245.5" x2="423.5" y2="242.3" stroke="#686868" stroke-width="1.3"/>
<line x1="429.6" y1="245.5" x2="429.6" y2="242.3" stroke="#686868" stroke-width="1.3"/>
<line x1="434.7" y1="245.5" x2="434.7" y2="242.3" stroke="#686868" stroke-width="1.3"/>
<line x1="439.2" y1="245.5" x2="439.2" y2="242.3" stroke="#686868" stroke-width="1.3"/>
<line x1="443.1" y1="245.5" x2="443.1" y2="242.3" stroke="#686868" stroke-width="1.3"/>
<line x1="446.6" y1="245.5" x2="446.6" y2="239.0" stroke="#686868" stroke-width="1.6"/>
<line x1="469.7" y1="245.5" x2="469.7" y2="242.3" stroke="#686868" stroke-width="1.3"/>
<line x1="483.1" y1="245.5" x2="483.1" y2="242.3" stroke="#686868" stroke-width="1.3"/>
<line x1="492.7" y1="245.5" x2="492.7" y2="242.3" stroke="#686868" stroke-width="1.3"/>
<line x1="500.1" y1="245.5" x2="500.1" y2="242.3" stroke="#686868" stroke-width="1.3"/>
<line x1="506.2" y1="245.5" x2="506.2" y2="242.3" stroke="#686868" stroke-width="1.3"/>
<line x1="511.3" y1="245.5" x2="511.3" y2="242.3" stroke="#686868" stroke-width="1.3"/>
<line x1="515.8" y1="245.5" x2="515.8" y2="242.3" stroke="#686868" stroke-width="1.3"/>
<line x1="519.7" y1="245.5" x2="519.7" y2="242.3" stroke="#686868" stroke-width="1.3"/>
<line x1="523.2" y1="245.5" x2="523.2" y2="239.0" stroke="#686868" stroke-width="1.6"/>
<line x1="546.3" y1="245.5" x2="546.3" y2="242.3" stroke="#686868" stroke-width="1.3"/>
<line x1="559.7" y1="245.5" x2="559.7" y2="242.3" stroke="#686868" stroke-width="1.3"/>
<line x1="569.3" y1="245.5" x2="569.3" y2="242.3" stroke="#686868" stroke-width="1.3"/>
<line x1="576.7" y1="245.5" x2="576.7" y2="242.3" stroke="#686868" stroke-width="1.3"/>
<line x1="582.8" y1="245.5" x2="582.8" y2="242.3" stroke="#686868" stroke-width="1.3"/>
<line x1="587.9" y1="245.5" x2="587.9" y2="242.3" stroke="#686868" stroke-width="1.3"/>
<line x1="592.4" y1="245.5" x2="592.4" y2="242.3" stroke="#686868" stroke-width="1.3"/>
<line x1="596.3" y1="245.5" x2="596.3" y2="242.3" stroke="#686868" stroke-width="1.3"/>
<line x1="599.8" y1="245.5" x2="599.8" y2="239.0" stroke="#686868" stroke-width="1.6"/>
<line x1="622.9" y1="245.5" x2="622.9" y2="242.3" stroke="#686868" stroke-width="1.3"/>
<line x1="636.3" y1="245.5" x2="636.3" y2="242.3" stroke="#686868" stroke-width="1.3"/>
<line x1="645.9" y1="245.5" x2="645.9" y2="242.3" stroke="#686868" stroke-width="1.3"/>
<line x1="653.3" y1="245.5" x2="653.3" y2="242.3" stroke="#686868" stroke-width="1.3"/>
<line x1="659.4" y1="245.5" x2="659.4" y2="242.3" stroke="#686868" stroke-width="1.3"/>
<line x1="664.5" y1="245.5" x2="664.5" y2="242.3" stroke="#686868" stroke-width="1.3"/>
<line x1="669" y1="245.5" x2="669" y2="242.3" stroke="#686868" stroke-width="1.3"/>
<line x1="672.9" y1="245.5" x2="672.9" y2="242.3" stroke="#686868" stroke-width="1.3"/>
<line x1="676.4" y1="245.5" x2="676.4" y2="239.0" stroke="#686868" stroke-width="1.6"/>
<line x1="370" y1="245.5" x2="377" y2="245.5" stroke="#686868" stroke-width="1.7"/>
<line x1="370" y1="204.6" x2="377" y2="204.6" stroke="#686868" stroke-width="1.7"/>
<line x1="370" y1="163.7" x2="377" y2="163.7" stroke="#686868" stroke-width="1.7"/>
<line x1="370" y1="122.8" x2="377" y2="122.8" stroke="#686868" stroke-width="1.7"/>
<line x1="370" y1="81.9" x2="377" y2="81.9" stroke="#686868" stroke-width="1.7"/>
<line x1="370" y1="41" x2="377" y2="41" stroke="#686868" stroke-width="1.7"/>
<rect x="37.5" y="44.5" width="61.5" height="90" rx="2.5" fill="#fafafb" stroke="#f3f3f4" stroke-width="0.6"/>
<line x1="43.8" y1="52.4" x2="75.1" y2="52.4" stroke="#1f77b4" stroke-width="2.1"/>
<line x1="43.8" y1="64.8" x2="75.1" y2="64.8" stroke="#ff7f0e" stroke-width="2.1" stroke-dasharray="5 1.6"/>
<line x1="43.8" y1="77.0" x2="75.1" y2="77.0" stroke="#2ca02c" stroke-width="2.1" stroke-dasharray="7 3"/>
<line x1="43.8" y1="89.6" x2="75.1" y2="89.6" stroke="#ff7f0e" stroke-width="2.1" stroke-dasharray="1.6 1.75"/>
<line x1="43.8" y1="101.6" x2="75.1" y2="101.6" stroke="#55b955" stroke-width="2.1" stroke-dasharray="4.1 2.5"/>
<line x1="43.8" y1="114.3" x2="75.1" y2="114.3" stroke="#d62728" stroke-width="2.1" stroke-dasharray="7 1.5 3.5 6.7 1.8 2.9"/>
<line x1="43.8" y1="126.4" x2="75.1" y2="126.4" stroke="#9467bd" stroke-width="2.1" stroke-dasharray="3.6 1.4 2 2.9 2 1.8"/>
<g style="will-change:transform"><text x="27.3" y="249.1" text-anchor="end" class="tl">0</text>
<text x="27.3" y="208.2" text-anchor="end" class="tl">2</text>
<text x="27.3" y="167.3" text-anchor="end" class="tl">4</text>
<text x="27.3" y="126.4" text-anchor="end" class="tl">6</text>
<text x="27.3" y="85.5" text-anchor="end" class="tl">8</text>
<text x="27.3" y="44.6" text-anchor="end" class="tl">10</text>
<text x="33.7" y="261" text-anchor="middle" class="tl">10<tspan dy="-5" class="sup">−4</tspan></text>
<text x="110.3" y="261" text-anchor="middle" class="tl">10<tspan dy="-5" class="sup">−3</tspan></text>
<text x="186.9" y="261" text-anchor="middle" class="tl">10<tspan dy="-5" class="sup">−2</tspan></text>
<text x="263.5" y="261" text-anchor="middle" class="tl">10<tspan dy="-5" class="sup">−1</tspan></text>
<text x="340.1" y="261" text-anchor="middle" class="tl">10<tspan dy="-5" class="sup">0</tspan></text>
<text x="186.6" y="273.6" text-anchor="middle" class="lab" font-style="italic">x</text>
<text x="363.9" y="249.1" text-anchor="end" class="tl">0</text>
<text x="363.9" y="208.2" text-anchor="end" class="tl">2</text>
<text x="363.9" y="167.3" text-anchor="end" class="tl">4</text>
<text x="363.9" y="126.4" text-anchor="end" class="tl">6</text>
<text x="363.9" y="85.5" text-anchor="end" class="tl">8</text>
<text x="363.9" y="44.6" text-anchor="end" class="tl">10</text>
<text x="370.3" y="261" text-anchor="middle" class="tl">10<tspan dy="-5" class="sup">−4</tspan></text>
<text x="446.9" y="261" text-anchor="middle" class="tl">10<tspan dy="-5" class="sup">−3</tspan></text>
<text x="523.5" y="261" text-anchor="middle" class="tl">10<tspan dy="-5" class="sup">−2</tspan></text>
<text x="600.1" y="261" text-anchor="middle" class="tl">10<tspan dy="-5" class="sup">−1</tspan></text>
<text x="676.7" y="261" text-anchor="middle" class="tl">10<tspan dy="-5" class="sup">0</tspan></text>
<text x="523.2" y="273.6" text-anchor="middle" class="lab" font-style="italic">x</text>
<text x="85.5" y="56.0" class="leg">g</text>
<text x="85.5" y="68.39999999999999" class="leg">d</text>
<text x="85.5" y="80.6" class="leg">u</text>
<text x="85.5" y="93.19999999999999" class="leg">d̄</text>
<text x="85.5" y="105.19999999999999" class="leg">ū</text>
<text x="85.5" y="117.89999999999999" class="leg">s<tspan dy="-4.3" dx="0.3" font-size="8.6" font-style="normal">+</tspan></text>
<text x="85.5" y="130.0" class="leg">c<tspan dy="-4.3" dx="0.3" font-size="8.6" font-style="normal">+</tspan></text>
<text x="340.2" y="11" text-anchor="middle" class="title">NNPDF3.1 NNLO, Impact of D0 <tspan font-style="italic">W</tspan> asymmetry data</text>
<text x="186.6" y="32.6" text-anchor="middle" class="sub">Central Value</text>
<text x="523.2" y="32.6" text-anchor="middle" class="sub">Uncertainty</text>
<text x="671.8" y="61.8" text-anchor="end" class="q"><tspan font-style="italic">Q</tspan> = 100 GeV</text>
<text transform="translate(10.2,143) rotate(-90)" text-anchor="middle" class="ylab"><tspan font-style="italic">d</tspan>[<tspan font-style="italic">x</tspan>, <tspan font-style="italic">Q</tspan>]</text></g>
</svg></body></html>
